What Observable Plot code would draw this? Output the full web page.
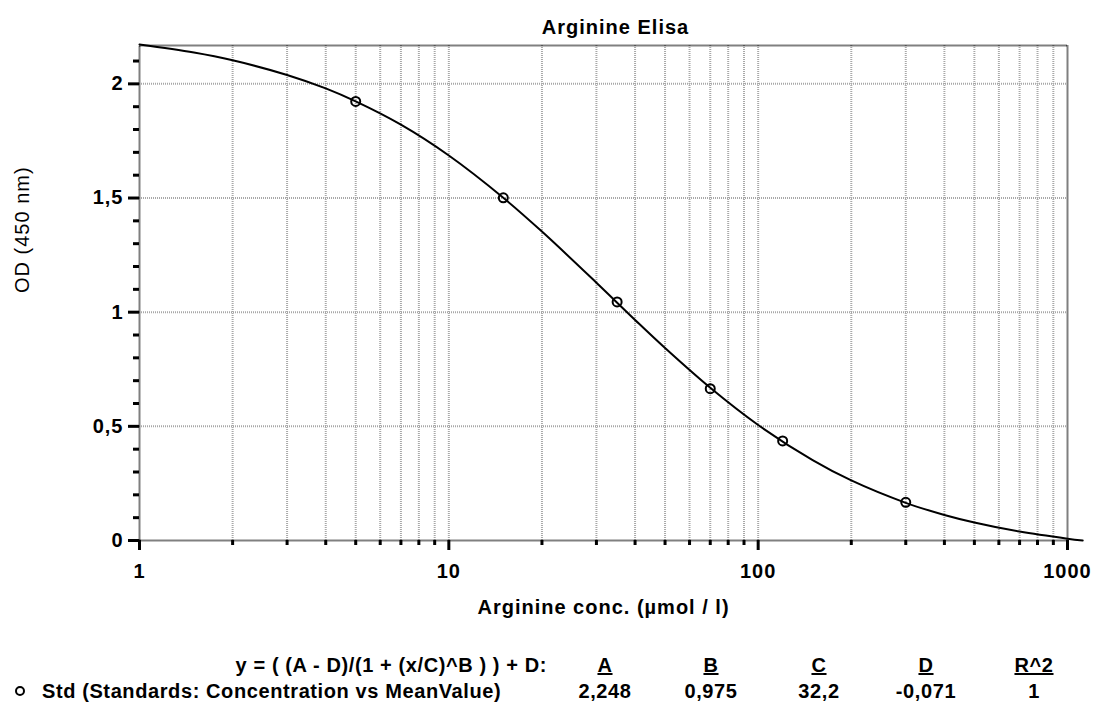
<!DOCTYPE html>
<html>
<head>
<meta charset="utf-8">
<script src="https://cdn.jsdelivr.net/npm/d3@7"></script>
<script src="https://cdn.jsdelivr.net/npm/@observablehq/plot@0.6"></script>
<style>
  html, body { margin: 0; padding: 0; background: #fff; }
  #wrap { position: relative; width: 1095px; height: 711px; font-family: "Liberation Sans", Arial, sans-serif; color: #000; overflow: hidden; }
  #chart { position: absolute; left: 0; top: 0; }
  .lg { position: absolute; font-size: 20px; line-height: 20px; font-weight: bold; letter-spacing: 0.6px; white-space: nowrap; }
  .u { text-decoration: underline; }
</style>
</head>
<body>
<div id="wrap">
  <div id="chart"></div>
  <div id="legend"></div>
</div>
<script>
// ---- data ----
const stdConc = [5, 15, 35, 70, 120, 300];
const stdOD = [1.923, 1.501, 1.045, 0.665, 0.436, 0.167];

const curveConc = [1, 1.5, 2, 3, 4, 5, 7, 10, 15, 20, 30, 40, 50, 70, 100, 150, 200, 300, 400, 500, 700, 1000, 1120];
const curveOD = [2.172, 2.137, 2.103, 2.039, 1.980, 1.923, 1.821, 1.686, 1.501, 1.353, 1.129, 0.966, 0.843, 0.669, 0.506, 0.352, 0.263, 0.165, 0.112, 0.079, 0.039, 0.008, 0.0];

const xTicks = [1, 10, 100, 1000];
const xMinor = [2, 3, 4, 5, 6, 7, 8, 9, 20, 30, 40, 50, 60, 70, 80, 90, 200, 300, 400, 500, 600, 700, 800, 900];
const xGrid = [2, 3, 4, 5, 6, 7, 8, 9, 10, 20, 30, 40, 50, 60, 70, 80, 90, 100, 200, 300, 400, 500, 600, 700, 800, 900];
const yTicks = [0, 0.5, 1, 1.5, 2];
const yTickLabels = ["0", "0,5", "1", "1,5", "2"];
const yMinor = [0.1, 0.2, 0.3, 0.4, 0.6, 0.7, 0.8, 0.9, 1.1, 1.2, 1.3, 1.4, 1.6, 1.7, 1.8, 1.9, 2.1];
const yGrid = [0.5, 1, 1.5, 2];

const title = "Arginine Elisa";
const xLabel = "Arginine conc. (µmol / l)";
const yLabel = "OD (450 nm)";

const equation = "y = ( (A - D)/(1 + (x/C)^B ) ) + D:";
const seriesName = "Std (Standards: Concentration vs MeanValue)";
const paramNames = ["A", "B", "C", "D", "R^2"];
const paramValues = ["2,248", "0,975", "32,2", "-0,071", "1"];

// ---- build tables ----
const points = stdConc.map((c, i) => ({conc: c, od: stdOD[i]}));
const curve = curveConc.map((c, i) => ({conc: c, od: curveOD[i]}));

const chart = Plot.plot({
  width: 1095,
  height: 640,
  marginTop: 45,
  marginBottom: 100,
  marginLeft: 139,
  marginRight: 28,
  style: "font-family: 'Liberation Sans', Arial, sans-serif; letter-spacing: 1px; background: white; overflow: visible;",
  x: {type: "log", domain: [1, 1000]},
  y: {domain: [0, 2.168]},
  marks: [
    Plot.ruleX(xGrid, {stroke: "#a8a8a8", strokeWidth: 2, strokeDasharray: "1 1"}),
    Plot.ruleY(yGrid, {stroke: "#a8a8a8", strokeWidth: 2, strokeDasharray: "1 1"}),
    Plot.frame({stroke: "#000", strokeWidth: 2, strokeDasharray: "1 1"}),
    Plot.axisY(yTicks, {tickSize: 11, strokeWidth: 3, tickPadding: 5, fontSize: 20, fontWeight: "bold",
      tickFormat: (d) => yTickLabels[yTicks.indexOf(d)], label: null}),
    Plot.axisY(yMinor, {tickSize: 6, strokeWidth: 3, tickFormat: () => "", label: null}),
    Plot.axisX(xTicks, {tickSize: 10, strokeWidth: 3, tickPadding: 13, fontSize: 20, fontWeight: "bold",
      tickFormat: (d) => String(d), label: null}),
    Plot.axisX(xMinor, {tickSize: 5, strokeWidth: 3, tickFormat: () => "", label: null}),
    Plot.line(curve, {x: "conc", y: "od", stroke: "#000", strokeWidth: 2, curve: "catmull-rom"}),
    Plot.dot(points, {x: "conc", y: "od", r: 4.5, stroke: "#000", strokeWidth: 2, fill: "none"}),
    Plot.text([title], {frameAnchor: "top", dy: -26, dx: 12, fontSize: 20, fontWeight: "bold"}),
    Plot.text([xLabel], {frameAnchor: "bottom", dy: 73, fontSize: 20, fontWeight: "bold"}),
    Plot.text([yLabel], {frameAnchor: "left", dx: -117, rotate: -90, fontSize: 20})
  ]
});
document.getElementById("chart").appendChild(chart);

// ---- legend (fit table) ----
const lg = document.getElementById("legend");
function cell(text, left, top, width, align, cls) {
  const d = document.createElement("div");
  d.className = "lg" + (cls ? " " + cls : "");
  d.textContent = text;
  d.style.left = left + "px";
  d.style.top = top + "px";
  d.style.width = width + "px";
  d.style.textAlign = align;
  lg.appendChild(d);
  return d;
}
const row1Top = 655, row2Top = 681;
const colCenters = [605, 711, 819, 926, 1034];
cell(equation, 0, row1Top, 547, "right");
cell(seriesName, 42, row2Top, 520, "left");
paramNames.forEach((n, i) => {
  const c = cell(n, colCenters[i] - 50, row1Top, 100, "center");
  c.innerHTML = "";
  const s = document.createElement("span");
  s.className = "u";
  s.textContent = n;
  c.appendChild(s);
});
paramValues.forEach((v, i) => cell(v, colCenters[i] - 50, row2Top, 100, "center"));
// legend marker
const ns = "http://www.w3.org/2000/svg";
const m = document.createElementNS(ns, "svg");
m.setAttribute("width", 14); m.setAttribute("height", 14);
m.style.position = "absolute"; m.style.left = "13px"; m.style.top = "684px";
const circ = document.createElementNS(ns, "circle");
circ.setAttribute("cx", 7); circ.setAttribute("cy", 7); circ.setAttribute("r", 4);
circ.setAttribute("fill", "none"); circ.setAttribute("stroke", "#000"); circ.setAttribute("stroke-width", 2);
m.appendChild(circ);
lg.appendChild(m);
</script>
</body>
</html>
